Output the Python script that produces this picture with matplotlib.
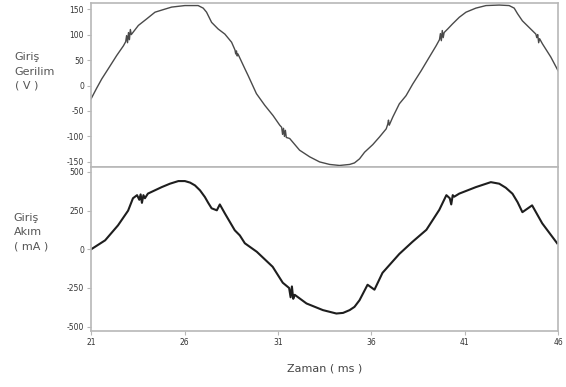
import matplotlib.pyplot as plt

plt.rcParams['axes.unicode_minus'] = False

# voltage trace (ms, V)
t_v = [21.0, 21.3, 21.57, 21.92, 22.37, 22.73, 22.85, 22.9, 22.95, 23.0, 23.05, 23.1, 23.15,
       23.53, 23.98, 24.42, 24.86, 25.31, 26.02, 26.73, 27.0, 27.18, 27.45, 27.8, 28.16,
       28.52, 28.7, 28.74, 28.78, 28.82, 28.86, 29.23, 29.4, 29.85, 30.3, 30.74, 31.1,
       31.2, 31.25, 31.3, 31.35, 31.4, 31.45, 31.63, 32.16, 32.7, 33.23, 33.77, 34.3,
       34.84, 35.1, 35.37, 35.64, 36.08, 36.44, 36.8, 36.88, 36.92, 36.96, 37.15, 37.5,
       37.86, 38.22, 38.67, 39.11, 39.47, 39.65, 39.7, 39.75, 39.8, 39.85, 39.9, 40.09,
       40.35, 40.71, 41.07, 41.6, 42.14, 42.85, 43.38, 43.65, 43.83, 44.09, 44.45, 44.81,
       44.86, 44.91, 44.96, 45.01, 45.16, 45.61, 46.0]
volt = [-26, -5, 13, 33, 59, 78, 86, 98, 84, 104, 90, 110, 100,
        118, 131, 144, 149, 154, 157, 157, 152, 144, 124, 111, 101,
        85, 70, 62, 68, 58, 62, 33, 20, -16, -39, -59, -78,
        -82, -96, -84, -100, -88, -102, -104, -127, -140, -150, -155, -157,
        -155, -152, -144, -131, -116, -101, -85, -76, -68, -78, -62, -36,
        -20, 3, 29, 56, 78, 90, 102, 88, 108, 94, 104, 111,
        121, 134, 144, 152, 157, 158, 157, 152, 141, 127, 114, 101,
        94, 100, 84, 92, 82, 56, 29]

# current trace (ms, mA)
t_i = [21.0, 21.75, 22.44, 22.98, 23.24, 23.46, 23.58, 23.65, 23.72, 23.8, 23.88, 24.04,
       24.78, 25.22, 25.67, 26.02, 26.3, 26.56, 26.83, 27.09, 27.27, 27.45, 27.73, 27.89,
       28.16, 28.69, 28.96, 29.23, 29.87, 30.72, 31.26, 31.6, 31.68, 31.75, 31.82, 31.9,
       32.53, 33.41, 34.13, 34.49, 34.84, 35.1, 35.37, 35.8, 36.17, 36.6, 37.5, 38.2,
       38.95, 39.64, 40.02, 40.2, 40.28, 40.36, 40.44, 40.71, 41.6, 42.4, 42.85, 43.2,
       43.56, 43.83, 44.09, 44.61, 45.15, 45.95]
curr = [0, 58, 155, 250, 330, 350, 320, 355, 300, 350, 330, 360,
        402, 424, 441, 441, 431, 413, 381, 338, 300, 265, 252, 290,
        232, 123, 90, 39, -16, -113, -216, -250, -310, -240, -320, -294,
        -350, -393, -415, -411, -393, -372, -329, -229, -261, -152, -30, 48,
        126, 255, 350, 330, 290, 350, 340, 360, 402, 434, 424, 398,
        359, 305, 240, 284, 168, 39]

x_ticks = [21, 26, 31, 36, 41, 46]
v_ticks = [-150, -100, -50, 0, 50, 100, 150]
i_ticks = [-500, -250, 0, 250, 500]

fig = plt.figure(figsize=(5.66, 3.87), dpi=100)
ax1 = fig.add_axes([0.161, 0.5685, 0.825, 0.4237])
ax2 = fig.add_axes([0.161, 0.1447, 0.825, 0.4238])

spine_col = '#b8b8b8'
for ax in (ax1, ax2):
    for s in ax.spines.values():
        s.set_color(spine_col)
        s.set_linewidth(1.2)
    ax.set_xlim(21, 46)
    ax.tick_params(colors='#333333', labelsize=5.5, length=3, width=0.8,
                   direction='out', color=spine_col, pad=2)

ax1.plot(t_v, volt, color='#4a4a4a', lw=1.0)
ax1.set_ylim(-160, 162)
ax1.set_yticks(v_ticks)
ax1.set_xticks([])

ax2.plot(t_i, curr, color='#1e1e1e', lw=1.5)
ax2.set_ylim(-528, 532)
ax2.set_yticks(i_ticks)
ax2.set_xticks(x_ticks)
ax2.set_xlabel('Zaman ( ms )', fontsize=8, color='#444444', labelpad=12)

fig.text(0.026, 0.815, 'Giriş\nGerilim\n( V )', fontsize=8, color='#555555',
         va='center', ha='left', linespacing=1.55)
fig.text(0.024, 0.40, 'Giriş\nAkım\n( mA )', fontsize=8, color='#555555',
         va='center', ha='left', linespacing=1.55)

fig.savefig('out.png', dpi=100)
